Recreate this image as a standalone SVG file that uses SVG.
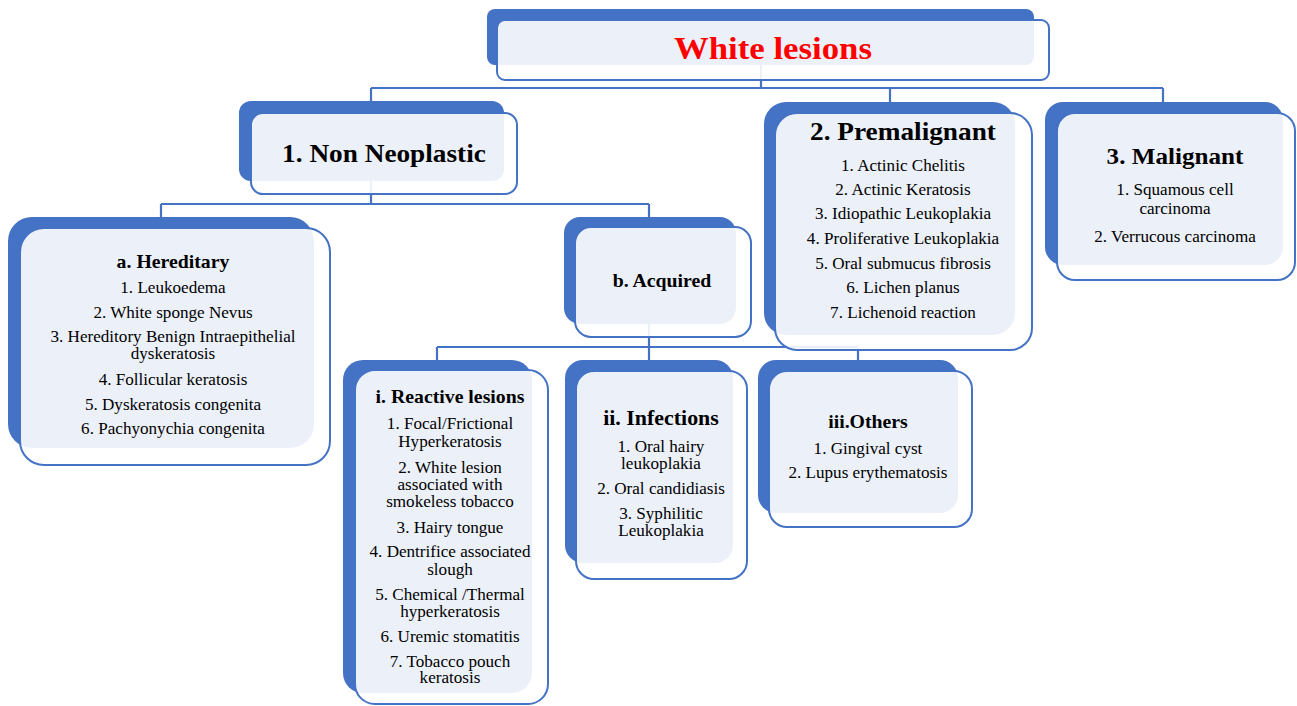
<svg xmlns="http://www.w3.org/2000/svg" width="1297" height="706" viewBox="0 0 1297 706">
<style>
.back{fill:#4472C4;stroke:none}
.front{fill:#ffffff;fill-opacity:0.9;stroke:#4472C4;stroke-width:2}
.conn{fill:none;stroke:#4472C4;stroke-width:2.2}
text{font-family:"Liberation Serif","Times New Roman",serif;fill:#000;text-anchor:middle}
.it{font-size:16px}
.sub{font-size:18.5px;font-weight:bold}
.l1{font-size:25.5px;font-weight:bold}
.main{font-size:32.5px;font-weight:bold;fill:#FF0000}
</style>
<rect width="1297" height="706" fill="#ffffff"/>
<g id="connectors">
<path class="conn" d="M761,65 V88 M371,88 H1163 M371,88 V101 M890,88 V102 M1163,88 V102"/>
<path class="conn" d="M371,181 V204 M161,204 H649 M161,204 V217 M649,204 V217"/>
<path class="conn" d="M649,324 V347 M437,347 H858 M437,347 V360 M649,347 V360 M858,347 V360"/>
</g>
<g id="node-white-lesions">
<rect class="back" x="487" y="9" width="547" height="56" rx="8"/>
<rect class="front" x="497" y="20" width="552" height="60" rx="8"/>
<g transform="matrix(1.07,0,0,1,-54.11,0)"><text class="main" x="773" y="59">White lesions</text></g>
</g>
<g id="node-non-neoplastic">
<rect class="back" x="239" y="101" width="265" height="80" rx="12"/>
<rect class="front" x="251" y="113" width="266" height="81" rx="12"/>
<g transform="matrix(1.07,0,0,1,-26.88,0)"><text class="l1" x="384" y="162">1. Non Neoplastic</text></g>
</g>
<g id="node-premalignant">
<rect class="back" x="764" y="102" width="251" height="233" rx="22"/>
<rect class="front" x="775" y="113" width="257" height="237" rx="22"/>
<g transform="matrix(1.07,0,0,1,-63.21,0)">
<text class="l1" x="903" y="140">2. Premalignant</text>
<text class="it" x="903" y="171">1. Actinic Chelitis</text>
<text class="it" x="903" y="195">2. Actinic Keratosis</text>
<text class="it" x="903" y="219">3. Idiopathic Leukoplakia</text>
<text class="it" x="903" y="244">4. Proliferative Leukoplakia</text>
<text class="it" x="903" y="269">5. Oral submucus fibrosis</text>
<text class="it" x="903" y="293">6. Lichen planus</text>
<text class="it" x="903" y="318">7. Lichenoid reaction</text>
</g>
</g>
<g id="node-malignant">
<rect class="back" x="1045" y="102" width="238" height="163" rx="18"/>
<rect class="front" x="1057" y="113" width="238" height="167" rx="18"/>
<g transform="matrix(1.07,0,0,1,-82.25,0)">
<text class="l1" x="1175" y="164" style="font-size:23.5px">3. Malignant</text>
<text class="it" x="1175" y="195">1. Squamous cell</text>
<text class="it" x="1175" y="214">carcinoma</text>
<text class="it" x="1175" y="242">2. Verrucous carcinoma</text>
</g>
</g>
<g id="node-hereditary">
<rect class="back" x="8" y="217" width="306" height="231" rx="24"/>
<rect class="front" x="20" y="228" width="310" height="237" rx="24"/>
<g transform="matrix(1.07,0,0,1,-12.11,0)">
<text class="sub" x="173" y="268">a. Hereditary</text>
<text class="it" x="173" y="293">1. Leukoedema</text>
<text class="it" x="173" y="318">2. White sponge Nevus</text>
<text class="it" x="173" y="342">3. Hereditory Benign Intraepithelial</text>
<text class="it" x="173" y="359">dyskeratosis</text>
<text class="it" x="173" y="385">4. Follicular keratosis</text>
<text class="it" x="173" y="410">5. Dyskeratosis congenita</text>
<text class="it" x="173" y="434">6. Pachyonychia congenita</text>
</g>
</g>
<g id="node-acquired">
<rect class="back" x="564" y="217" width="172" height="107" rx="16"/>
<rect class="front" x="575" y="227" width="176" height="110" rx="16"/>
<g transform="matrix(1.07,0,0,1,-46.34,0)"><text class="sub" x="662" y="287">b. Acquired</text></g>
</g>
<g id="node-reactive">
<rect class="back" x="343" y="360" width="189" height="333" rx="20"/>
<rect class="front" x="355" y="370" width="193" height="334" rx="20"/>
<g transform="matrix(1.07,0,0,1,-31.5,0)">
<text class="sub" x="450" y="403">i. Reactive lesions</text>
<text class="it" x="450" y="429">1. Focal/Frictional</text>
<text class="it" x="450" y="447">Hyperkeratosis</text>
<text class="it" x="450" y="473">2. White lesion</text>
<text class="it" x="450" y="490">associated with</text>
<text class="it" x="450" y="507">smokeless tobacco</text>
<text class="it" x="450" y="533">3. Hairy tongue</text>
<text class="it" x="450" y="557">4. Dentrifice associated</text>
<text class="it" x="450" y="575">slough</text>
<text class="it" x="450" y="600">5. Chemical /Thermal</text>
<text class="it" x="450" y="617">hyperkeratosis</text>
<text class="it" x="450" y="642">6. Uremic stomatitis</text>
<text class="it" x="450" y="667">7. Tobacco pouch</text>
<text class="it" x="450" y="683">keratosis</text>
</g>
</g>
<g id="node-infections">
<rect class="back" x="565" y="360" width="168" height="203" rx="18"/>
<rect class="front" x="576" y="371" width="171" height="208" rx="18"/>
<g transform="matrix(1.07,0,0,1,-46.27,0)">
<text class="sub" x="661" y="425" style="font-size:20.5px">ii. Infections</text>
<text class="it" x="661" y="452">1. Oral hairy</text>
<text class="it" x="661" y="469">leukoplakia</text>
<text class="it" x="661" y="494">2. Oral candidiasis</text>
<text class="it" x="661" y="519">3. Syphilitic</text>
<text class="it" x="661" y="536">Leukoplakia</text>
</g>
</g>
<g id="node-others">
<rect class="back" x="758" y="360" width="200" height="153" rx="18"/>
<rect class="front" x="769" y="371" width="203" height="156" rx="18"/>
<g transform="matrix(1.07,0,0,1,-60.76,0)">
<text class="sub" x="868" y="428">iii.Others</text>
<text class="it" x="868" y="454">1. Gingival cyst</text>
<text class="it" x="868" y="478">2. Lupus erythematosis</text>
</g>
</g>
</svg>
